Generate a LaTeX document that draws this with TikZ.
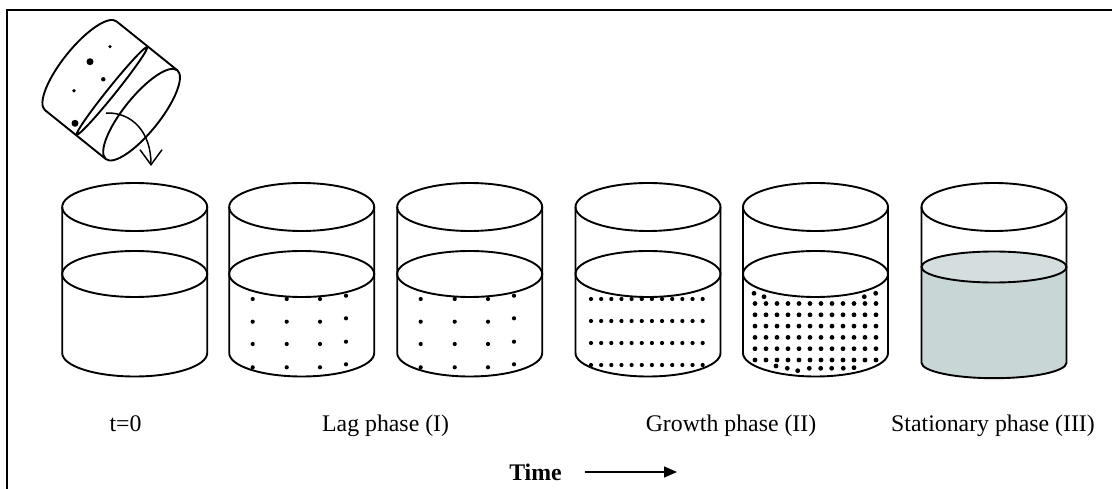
\documentclass[tikz,border=0pt]{standalone}
\usepackage{fontspec}
\setmainfont{Liberation Serif}
\usepackage{tikz}
\usetikzlibrary{positioning,arrows.meta}
\definecolor{brothgrey}{RGB}{201,214,214}
\definecolor{brothtop}{RGB}{212,222,222}

\begin{document}
\begin{tikzpicture}[x=1pt,y=-1pt,
    glass/.style={line width=1.9pt},
    cell/.style={fill=black},
    phase/.style={font=\fontsize{23.8}{28}\selectfont,anchor=base},
    frameline/.style={line width=2.4pt},
    timeline/.style={line width=1.5pt,-{Triangle[length=13pt,width=11pt]}}]

    \useasboundingbox (0,0) rectangle (1112,489);
    \draw[frameline] (7,489) -- (7,10) -- (1112,10);

    % inoculum tube, tipped over
    \begin{scope}[shift={(80.8,65.8)},rotate=-38.8]
        \draw[glass] (0,-57) arc[start angle=270,end angle=90,x radius=18,y radius=57] -- (78,57);
        \draw[glass] (0,-57) -- (78,-57);
        \draw[glass] (40,0) ellipse[x radius=4,y radius=56];
        \draw[glass] (78,0) ellipse[x radius=18,y radius=57];
    \end{scope}
    \fill[cell] (110,46.7) circle (1.8) (90,61.7) circle (3.5) (103.3,79.3) circle (2.2)
        (74,90.7) circle (1.9) (75,123.3) circle (3.5);
    \coordinate (pour) at (106,113);
    \coordinate (drop) at (151,166);
    \draw[line width=1.5pt,-{Straight Barb[length=15pt,width=22pt]}] (pour) .. controls (132,112) and (151,132) .. (drop);

    % beakers
    \foreach \cx in {134.7,301.7,469.7,648,815.5} {
        \draw[glass] (\cx-72.5,207) -- (\cx-72.5,353) arc[start angle=180,end angle=0,x radius=72.5,y radius=23.5] -- (\cx+72.5,207);
        \draw[glass] (\cx,207) ellipse[x radius=72.5,y radius=24];
        \draw[glass] (\cx,274) ellipse[x radius=72.5,y radius=23];
    }
    % stationary culture
    \fill[brothgrey] (921.5,267) arc[start angle=180,end angle=360,x radius=72.5,y radius=15.5]
        -- (1066.5,362.7) arc[start angle=0,end angle=180,x radius=72.5,y radius=15.5] -- cycle;
    \draw[glass] (921.5,207) -- (921.5,362.7) arc[start angle=180,end angle=0,x radius=72.5,y radius=15.5] -- (1066.5,207);
    \draw[glass] (994,207) ellipse[x radius=72.5,y radius=24];
    \draw[glass,fill=brothtop] (994,267) ellipse[x radius=72.5,y radius=15.5];

    % lag phase cells
    \foreach \cx in {301.7,469.7} {
        \foreach \dx in {-49,-15,18.3} {
            \foreach \y in {299,321.7,344,367.3}
                \fill[cell] (\cx+\dx,\y) circle (2.1);
        }
        \foreach \y in {295.7,318.3,341.7,364.3}
            \fill[cell] (\cx+44.3,\y) circle (2.1);
    }
    % growth phase cells
    \foreach \c in {0,...,11} {
        \foreach \r in {0,...,3}
            \fill[cell] (591+10.15*\c,299+22*\r) circle (2.1);
    }
    \foreach \c in {0,...,11} {
        \foreach \r in {0,...,5}
            \fill[cell] (755+11*\c,303.5+11.3*\r) circle (2.4);
    }
    \foreach \p in {(754,293.3),(764,296.7),(864.3,296.7),(875.7,293.3),
        (776,366),(787.3,368.3),(797.7,370.7),(809.3,368.3),(820.7,368.3),
        (831.7,368.3),(843.3,368.3),(854,367.7)}
        \fill[cell] \p circle (2.4);

    % labels
    \node[phase] (t0) at (125.5,431) {t=0};
    \node[phase] (lag) at (385.6,431) {Lag phase (I)};
    \node[phase] (growth) at (731,431) {Growth phase (II)};
    \node[phase] (stat) at (993,431) {Stationary phase (III)};

    \node[font=\fontsize{23.8}{28}\selectfont\bfseries] (time) at (535.5,472) {Time};
    \coordinate (later) at (677,472);
    \draw[timeline,shorten <=20pt] (time) -- (later);

\end{tikzpicture}
\end{document}
